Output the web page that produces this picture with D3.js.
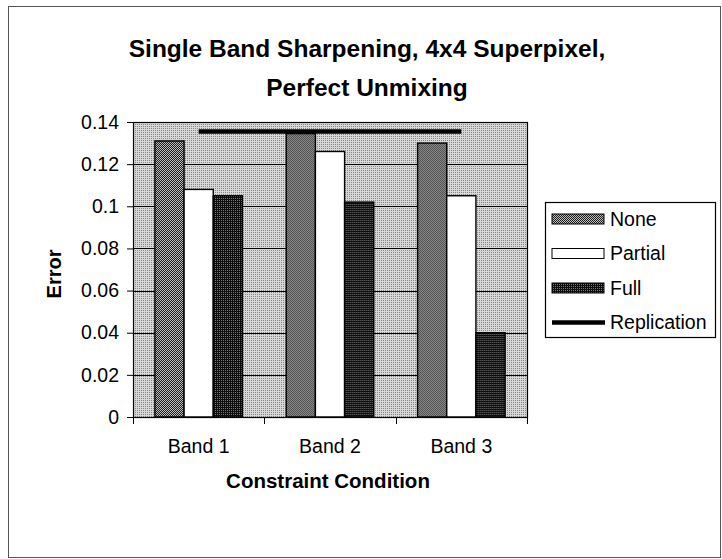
<!DOCTYPE html>
<html>
<head>
<meta charset="utf-8">
<script src="https://cdn.jsdelivr.net/npm/d3@7"></script>
<style>
  body { margin: 0; background: #fff; }
  #chart { width: 722px; height: 559px; }
  text { font-family: "Liberation Sans", Arial, sans-serif; fill: #000; }
</style>
</head>
<body>
<div id="chart"></div>
<script>
const categories = ["Band 1", "Band 2", "Band 3"];
const seriesNames = ["None", "Partial", "Full"];
const noneValues = [0.131, 0.1345, 0.130];
const partialValues = [0.108, 0.126, 0.105];
const fullValues = [0.105, 0.102, 0.040];
const replicationValues = [0.1355, 0.1355, 0.1355];
const yTicks = [0, 0.02, 0.04, 0.06, 0.08, 0.1, 0.12, 0.14];
const titleLines = ["Single Band Sharpening, 4x4 Superpixel,", "Perfect Unmixing"];

function renderChart() {
  const width = 722, height = 559;
  const margin = { top: 122, left: 133, right: 195, bottom: 142 };
  const innerW = width - margin.left - margin.right;
  const innerH = height - margin.top - margin.bottom;

  const svg = d3.select("#chart").append("svg")
    .attr("width", width).attr("height", height);

  // dither-like fills
  const defs = svg.append("defs");
  function pattern(id, bg, fg, cells) {
    const p = defs.append("pattern").attr("id", id)
      .attr("patternUnits", "userSpaceOnUse")
      .attr("width", 2).attr("height", 2);
    p.append("rect").attr("width", 2).attr("height", 2).attr("fill", bg);
    cells.forEach(([cx, cy]) => p.append("rect")
      .attr("x", cx).attr("y", cy).attr("width", 1).attr("height", 1).attr("fill", fg));
  }
  pattern("bgPat", "#d8d8d8", "#858585", [[0, 0]]);
  pattern("nonePat", "#bdbdbd", "#1e1e1e", [[0, 0], [1, 1]]);
  pattern("fullPat", "#0c0c0c", "#7a7a7a", [[0, 0]]);
  const fills = { None: "url(#nonePat)", Partial: "#fff", Full: "url(#fullPat)" };

  svg.append("rect").attr("x", 8.5).attr("y", 6.5)
    .attr("width", 712).attr("height", 551)
    .attr("fill", "none").attr("stroke", "#555").attr("stroke-width", 1);

  const title = svg.append("text").attr("text-anchor", "middle")
    .attr("font-size", 24.5).attr("font-weight", "bold");
  titleLines.forEach((t, i) => title.append("tspan")
    .attr("x", 367).attr("y", 57 + i * 39).text(t));

  const g = svg.append("g").attr("transform", `translate(${margin.left},${margin.top})`);

  const x0 = d3.scaleBand().domain(categories).range([0, innerW]);
  const x1 = d3.scaleBand().domain(seriesNames).range([0, x0.bandwidth()])
    .paddingInner(0).paddingOuter(0.75);
  const y = d3.scaleLinear().domain([0, 0.14]).range([innerH, 0]);

  g.append("rect").attr("width", innerW).attr("height", innerH)
    .attr("fill", "url(#bgPat)");

  g.append("g").selectAll("line").data(yTicks.filter(d => d > 0 && d < 0.14)).join("line")
    .attr("x1", 0).attr("x2", innerW)
    .attr("y1", d => Math.round(y(d)) + 0.5).attr("y2", d => Math.round(y(d)) + 0.5)
    .attr("stroke", "#000").attr("stroke-width", 1);

  const rows = categories.map((c, i) => ({
    cat: c,
    vals: [
      { key: "None", v: noneValues[i] },
      { key: "Partial", v: partialValues[i] },
      { key: "Full", v: fullValues[i] }
    ]
  }));

  g.selectAll("g.band").data(rows).join("g").attr("class", "band")
    .attr("transform", d => `translate(${x0(d.cat)},0)`)
    .selectAll("rect").data(d => d.vals).join("rect")
    .attr("x", d => x1(d.key)).attr("y", d => y(d.v))
    .attr("width", x1.bandwidth()).attr("height", d => innerH - y(d.v))
    .attr("fill", d => fills[d.key]).attr("stroke", "#000").attr("stroke-width", 1.4);

  const line = d3.line()
    .x((d, i) => x0(categories[i]) + x0.bandwidth() / 2)
    .y(d => y(d));
  g.append("path").datum(replicationValues).attr("d", line)
    .attr("fill", "none").attr("stroke", "#000").attr("stroke-width", 4.5);

  g.append("rect").attr("x", 0.5).attr("y", 0.5).attr("width", innerW).attr("height", innerH)
    .attr("fill", "none").attr("stroke", "#000").attr("stroke-width", 1.2);

  const yAxis = g.append("g")
    .call(d3.axisLeft(y).tickValues(yTicks).tickSize(6).tickPadding(8)
      .tickFormat(d => d === 0 ? "0" : String(+d.toFixed(2))));
  yAxis.select(".domain").attr("stroke", "#000");
  yAxis.selectAll("text").attr("font-size", 19.5).attr("font-family", "Liberation Sans, Arial, sans-serif");

  const xAxis = g.append("g").attr("transform", `translate(0,${innerH})`)
    .call(d3.axisBottom(x0).tickSize(0).tickPadding(22));
  xAxis.select(".domain").attr("stroke", "#000");
  xAxis.selectAll("text").attr("font-size", 19.5).attr("font-family", "Liberation Sans, Arial, sans-serif");
  xAxis.selectAll("line.sep").data(d3.range(categories.length + 1)).join("line").attr("class", "sep")
    .attr("x1", i => Math.round(i * x0.step()) + 0.5).attr("x2", i => Math.round(i * x0.step()) + 0.5)
    .attr("y1", 0).attr("y2", 7).attr("stroke", "#000");

  g.append("text").attr("x", innerW / 2 - 2).attr("y", innerH + 71)
    .attr("text-anchor", "middle").attr("font-size", 20.5).attr("font-weight", "bold")
    .text("Constraint Condition");

  g.append("text").attr("transform", `translate(${61 - margin.left},${274 - margin.top}) rotate(-90)`)
    .attr("text-anchor", "middle").attr("font-size", 20).attr("font-weight", "bold")
    .text("Error");

  // legend
  const leg = svg.append("g").attr("transform", "translate(545,202)");
  leg.append("rect").attr("x", 0.5).attr("y", 0.5).attr("width", 170).attr("height", 135)
    .attr("fill", "#fff").attr("stroke", "#000").attr("stroke-width", 1.2);
  const legItems = seriesNames.concat(["Replication"]);
  const item = leg.selectAll("g.item").data(legItems).join("g").attr("class", "item")
    .attr("transform", (d, i) => `translate(0,${17 + i * 34.5})`);
  item.filter(d => d !== "Replication").append("rect")
    .attr("x", 7).attr("y", -5).attr("width", 52).attr("height", 10)
    .attr("fill", d => fills[d]).attr("stroke", "#000").attr("stroke-width", 1);
  item.filter(d => d === "Replication").append("line")
    .attr("x1", 7).attr("x2", 60).attr("stroke", "#000").attr("stroke-width", 4.5);
  item.append("text").attr("x", 65).attr("dy", "0.35em")
    .attr("font-size", 19.5).text(d => d);
}

renderChart();
</script>
</body>
</html>
